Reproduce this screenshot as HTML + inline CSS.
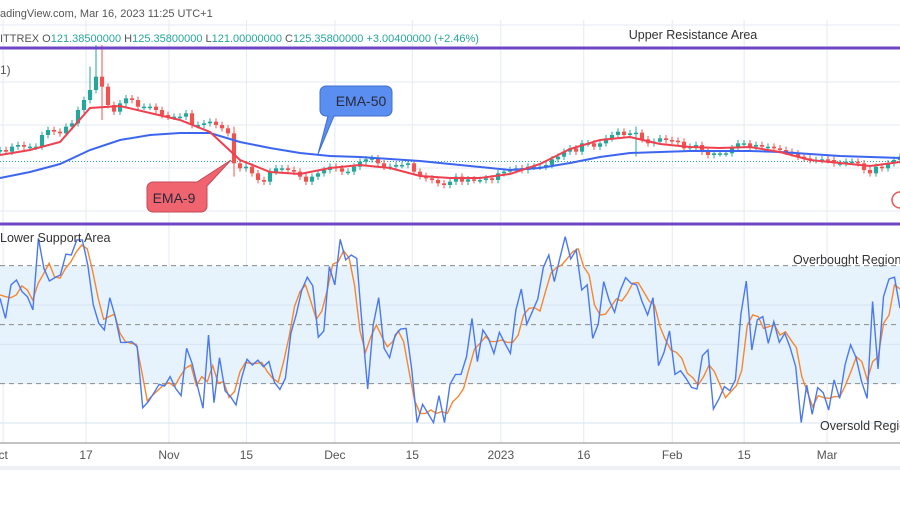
<!DOCTYPE html>
<html><head><meta charset="utf-8">
<style>
html,body{margin:0;padding:0;background:#fff;}
body{width:900px;height:500px;overflow:hidden;font-family:"Liberation Sans",sans-serif;}
svg text{font-family:"Liberation Sans",sans-serif;}
</style></head>
<body>
<svg id="chart" width="900" height="500" viewBox="0 0 900 500" xmlns="http://www.w3.org/2000/svg">
  <g id="grid"></g>
  <rect x="0" y="266" width="900" height="118" fill="#e6f3fd"/>
  <g id="rsiGrid"></g>
  <text x="0" y="17" font-size="11" fill="#555">adingView.com, Mar 16, 2023 11:25 UTC+1</text>
  <text x="0" y="42" font-size="11" fill="#555">ITTREX  O<tspan fill="#26a69a">121.38500000</tspan>  H<tspan fill="#26a69a">125.35800000</tspan>  L<tspan fill="#26a69a">121.00000000</tspan>  C<tspan fill="#26a69a">125.35800000</tspan>  <tspan fill="#26a69a">+3.00400000 (+2.46%)</tspan></text>
  <text x="0" y="74" font-size="12" fill="#555">1)</text>
  <text x="693" y="39" font-size="12.5" fill="#333" text-anchor="middle">Upper Resistance Area</text>
  <line x1="0" y1="161.5" x2="900" y2="161.5" stroke="#26a69a" stroke-width="1" stroke-dasharray="1,2"/>
  <g id="candles"></g>
  <path id="ema50" fill="none" stroke="#3d66f0" stroke-width="2"/>
  <path id="ema9" fill="none" stroke="#f0404f" stroke-width="2"/>
  <rect x="0" y="46.5" width="900" height="3" fill="#6e45c4"/>
  <rect x="0" y="222.5" width="900" height="3" fill="#6e45c4"/>
  <g>
    <path d="M338,86 h48 a6,6 0 0 1 6,6 v18 a6,6 0 0 1 -6,6 h-52 l-16,38 l10,-38 h-2 a6,6 0 0 1 -6,-6 v-18 a6,6 0 0 1 6,-6 z" fill="#5a8ef0" stroke="#3f70d0" stroke-width="1"/>
    <text x="361" y="106" font-size="14" fill="#2a2a3a" text-anchor="middle">EMA-50</text>
  </g>
  <g>
    <path d="M153,182 h44 l34,-22 l-24,26 v20 a6,6 0 0 1 -6,6 h-48 a6,6 0 0 1 -6,-6 v-18 a6,6 0 0 1 6,-6 z" fill="#f0646f" stroke="#c44a58" stroke-width="1"/>
    <text x="174" y="203" font-size="14" fill="#2a2a3a" text-anchor="middle">EMA-9</text>
  </g>
  <path d="M900,192 a8,8 0 0 0 0,16" fill="none" stroke="#ef5350" stroke-width="1.5"/>
  <path id="rsiSignal" fill="none" stroke="#f7862e" stroke-width="1.4"/>
  <path id="rsiLine" fill="none" stroke="#4a78f2" stroke-width="1.4"/>
  <text x="0" y="242" font-size="12.5" fill="#333">Lower Support Area</text>
  <text x="793" y="264" font-size="12.5" fill="#333">Overbought Region</text>
  <text x="820" y="430" font-size="12.5" fill="#333">Oversold Region</text>
  <line x1="0" y1="443" x2="900" y2="443" stroke="#888" stroke-width="1"/>
  <rect x="0" y="466" width="900" height="4" fill="#eef0f5"/>
  <g id="xTicks"></g>
</svg>
<script>
// ---- data ----
const closes = [55,54.5,56,56.5,56,56,56,59.5,61,60.5,60,62,63,67,70,73,77,74,68.5,66.5,69,70.5,70,68,68,68,67,65.5,65,65,65,66,62.5,62.5,63,63.5,62.5,61.5,60,51,49.5,50,48,46,45.5,48.5,49.5,49.5,49,48.5,47,45.5,47,48,49,50,49.5,48.5,48.5,50,51.5,52.2,52.5,51,50,50,50.5,50.5,51,48.5,47.2,46.5,46,45,
44.5,45.5,47,45.5,46.2,46,46,46.5,46,48,48.5,49,49.5,49,50,50,50,50.5,52.2,53,54.5,55.5,54.5,57,57,56,57,58.5,59.5,60.5,59.5,60,60.2,58.2,57,57.5,58.5,58,57.8,57.5,55.5,56,56.5,54.5,53.5,54,54,54,55.5,57,57,56,56.5,56,56,55.5,55,54.5,54,53,52.5,52,52,52.2,52,51,51,51.5,51.5,51,49,48,50,49.5,51,52,53];
const spikeIndex = [15,16,17,39,106];
const spikeHigh = [80,86.5,86.5,62,62];
const spikeLow = [70,72,64,47,53];
const ema50 = [46.6,48.4,50.8,55,58,59.5,60.1,60.1,57.4,55.6,54.1,53.2,52.9,52.3,51.7,50.8,49.9,49,49.6,51.1,52.9,54.1,54.4,54.7,54.7,54.7,54.4,53.8,53.2,52.9,52.6];
const ema9 = [53.5,55,57.4,67.6,68.2,66.1,64,60.4,52,48.4,47.8,49.6,50.5,49.6,47.2,46.6,46.6,47.8,50.8,55.3,58,58.9,56.8,55.9,55.6,55.9,54.4,52,51.1,50.2,51.4];
const rsi = [63.4,53.2,70.2,72.7,66.8,64.2,57.5,93.9,78.6,72.2,73.9,75.3,85.8,85.4,93.1,93.1,80.3,60,50.7,47.3,63.7,54.1,41,41,41.4,38.8,7.8,10.8,15.1,19.7,18.8,23.6,17.6,13.9,38,30.3,18.5,7.5,44.7,10.3,33.2,16.4,13.4,9.2,22.7,32.4,29.5,32,28.6,31.2,20.7,17.1,22.7,45.6,55.3,67.6,74.1,69.7,43.6,46.8,79.5,70.2,93.4,82.9,85.4,83.7,49,17.3,49.8,63.7,38,33.2,44.7,47.8,48.1,27.8,0.2,9.5,4.9,0.2,13.9,0.2,19.7,
24.7,24.7,33.7,53.2,31.2,47.3,43,35.4,46.1,40.5,35.4,57.5,68.1,50.2,56.6,63.1,79,85.4,71.9,83.7,94.7,83.4,88,67.6,70.2,43,50.2,71.9,62.5,56.3,67.1,73.9,71,70.2,61.7,54.9,63.7,29.2,35.9,46.8,24.7,26.6,22.7,18.1,17.3,34.2,37.1,7.1,12.2,18.5,16.4,21.9,55.3,72.2,37.1,52.4,54.1,40.5,51.5,41,45.6,38.3,28.6,0.2,19.3,4.4,18,15.4,6.6,21.9,12.5,29.7,39.7,33.2,21,12.5,61.7,27.5,64.2,73.2,74.1,58.3];
const rsiSignal = [65.1,64.2,63.7,65.1,69.7,67.6,62.5,71,75.9,81.2,74.4,73.6,78.6,82,87.1,90.5,88.5,77,63.4,52.7,54.1,55.3,45.6,41.4,40.5,40,26.1,11.2,14.2,16.8,19.3,20.5,18.5,23.6,27.8,29.5,19,23.6,21,29.2,20.3,21,13,16,26.1,30.8,30.3,30.3,30.8,26.1,22.7,20.7,31.2,43.9,59.2,66.8,70.2,61.7,52.7,56.9,67.6,80.7,82,87.6,83.9,70.2,46.8,35.9,43.9,49.8,43.9,38.8,41.4,46.8,41.4,26.1,11.7,4.9,4.9,6.6,4.9,5.8,4.9,10.8,
13.4,17.6,27.8,37.6,40.5,43.9,41.4,41.4,42.2,41,41,44.7,54.9,58.3,58.6,56.9,66.8,76.1,79,80.3,83.7,87.1,88.5,79.5,75.3,60,54.9,55.3,59.2,63.1,62,65.9,71,71.4,66.8,62,60,49,42.2,37.1,35.9,32.9,25.3,23.1,19.3,23.6,29.5,26.1,19.3,12.9,15.9,19,26.9,49.8,54.9,54.1,48.1,49,49.8,44.7,46.4,42.2,38.3,23.6,15.9,8.3,13.9,12.9,12.5,13.4,13.4,19.3,26.1,33.7,31.2,21.9,31.2,33.7,50.7,54.9,70.2,68.1];
const tickLabels = ["ct","17","Nov","15","Dec","15","2023","16","Feb","15","Mar"];
const tickDays = [1,16,31,45,61,75,91,106,122,135,150];
const rsiLevels = [80,50,20];
const rsiGridVals = [60,40,0];

// ---- axes ----
const NS = "http://www.w3.org/2000/svg";
const dayToX = d => 169 + (d - 31) * 5.53;
const yP = p => (100 - p) * 10 / 3;
const yR = v => 423 - v * 1.967;
const xIdx = (i, n) => i * 900 / (n - 1);
function mk(tag, attrs, parent){const e=document.createElementNS(NS,tag);for(const k in attrs)e.setAttribute(k,attrs[k]);parent.appendChild(e);return e;}
function pathFrom(arr, yf){return arr.map((v,i)=>(i?"L":"M")+xIdx(i,arr.length).toFixed(1)+","+yf(v).toFixed(1)).join("");}

const grid = document.getElementById("grid");
const tickX = tickDays.map(dayToX);
tickX.forEach((x,i)=>{
  const l = mk("line",{x1:x,y1:20,x2:x,y2:443,stroke:"#e3ebf3","stroke-width":1},grid);
  
  
});
[25,82,125,168,211,305,344,423].forEach(y=>{
  const l = mk("line",{x1:0,y1:y,x2:900,y2:y,stroke:"#e3ebf3","stroke-width":1},grid);
  
  
});
const rg = document.getElementById("rsiGrid");
rsiGridVals.forEach(v=>{
  const l = mk("line",{x1:0,y1:yR(v),x2:900,y2:yR(v),stroke:"#d6e4f2","stroke-width":1},rg);
  
  
});
rsiLevels.forEach(v=>{
  const l = mk("line",{x1:0,y1:yR(v),x2:900,y2:yR(v),stroke:"#8a8a8a","stroke-width":1,"stroke-dasharray":"5,4"},rg);
  
  
});

const xt = document.getElementById("xTicks");
tickLabels.forEach((t,i)=>{
  const e = mk("text",{x:tickX[i],y:459,"font-size":12,fill:"#555","text-anchor":"middle"},xt);
  e.textContent = t;
  
  
});

const cg = document.getElementById("candles");
const n = closes.length;
closes.forEach((c,i)=>{
  const o = i ? closes[i-1] : c - 0.5;
  let hi = Math.max(o,c) + 1.0, lo = Math.min(o,c) - 1.0;
  const s = spikeIndex.indexOf(i);
  if (s >= 0){ hi = Math.max(hi, spikeHigh[s]); lo = Math.min(lo, spikeLow[s]); }
  const x = xIdx(i,n);
  const col = c >= o ? "#26a69a" : "#ef5350";
  const w = mk("line",{x1:x,y1:yP(hi),x2:x,y2:yP(lo),stroke:col,"stroke-width":1},cg);
  
  
  const top = yP(Math.max(o,c)), h = Math.max(1.5, Math.abs(yP(o)-yP(c)));
  const b = mk("rect",{x:x-2.1,y:top,width:4.2,height:h,fill:col},cg);
  
  
});

document.getElementById("ema50").setAttribute("d", pathFrom(ema50, yP));
document.getElementById("ema9").setAttribute("d", pathFrom(ema9, yP));
document.getElementById("rsiLine").setAttribute("d", pathFrom(rsi, yR));
document.getElementById("rsiSignal").setAttribute("d", pathFrom(rsiSignal, yR));
</script>
</body></html>
